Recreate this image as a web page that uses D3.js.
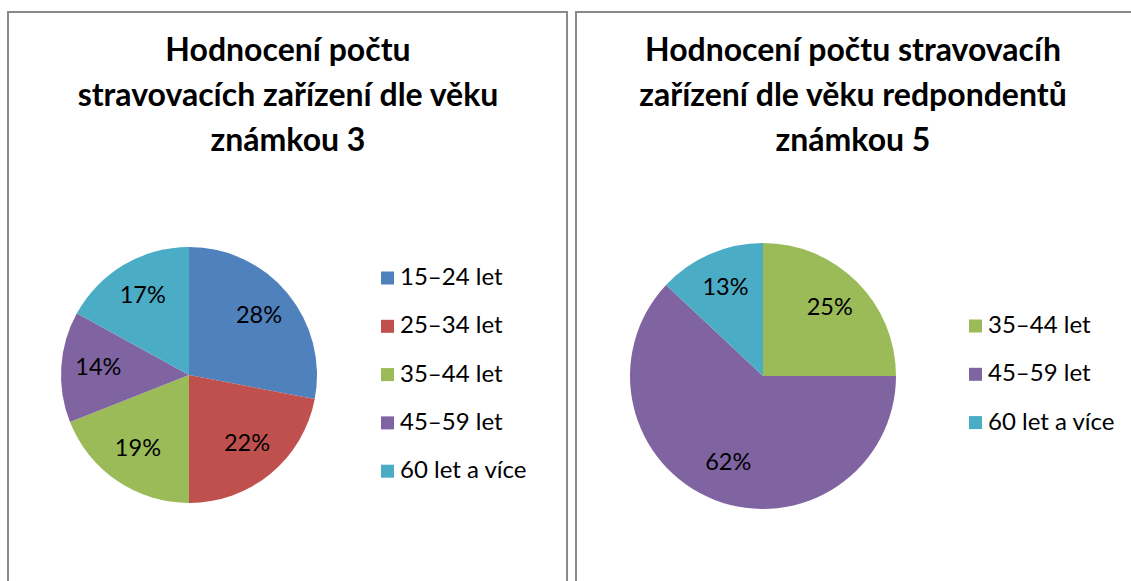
<!DOCTYPE html>
<html><head><meta charset="utf-8">
<script src="https://cdn.jsdelivr.net/npm/d3@7"></script>
<style>html,body{margin:0;padding:0;background:#fff;}</style>
</head><body>
<svg id="c" width="1131" height="581"></svg>
<script>
const title1 = ["Hodnocení počtu", "stravovacích zařízení dle věku", "známkou 3"];
const categories1 = ["15–24 let", "25–34 let", "35–44 let", "45–59 let", "60 let a více"];
const values1 = [28, 22, 19, 14, 17];
const colors1 = ["#4F81BD", "#C0504D", "#9BBB59", "#8064A2", "#4BACC6"];

const title2 = ["Hodnocení počtu stravovacíh", "zařízení dle věku redpondentů", "známkou 5"];
const categories2 = ["35–44 let", "45–59 let", "60 let a více"];
const values2 = [25, 62, 13];
const colors2 = ["#9BBB59", "#8064A2", "#4BACC6"];

const svg = d3.select("#c");
const font = "Lato, Carlito, 'Liberation Sans', sans-serif";

function panel(cfg) {
  const g = svg.append("g");
  g.append("rect").attr("x", cfg.x).attr("y", cfg.y).attr("width", cfg.w).attr("height", cfg.h)
    .attr("fill", "#fff").attr("stroke", "#8a8a8a").attr("stroke-width", 2);
  g.selectAll("text.title").data(cfg.title).enter().append("text")
    .attr("x", cfg.titleX).attr("y", (d, i) => cfg.titleY + i * 45)
    .attr("text-anchor", "middle").attr("dominant-baseline", "middle")
    .attr("font-family", font).attr("font-weight", "bold").attr("font-size", 32)
    .attr("fill", "#000").text(d => d);

  const pie = d3.pie().sort(null).value(d => d)(cfg.values);
  const arc = d3.arc().innerRadius(0).outerRadius(cfg.r);
  const lab = d3.arc().innerRadius(cfg.r * 0.71).outerRadius(cfg.r * 0.71);
  const pg = g.append("g").attr("transform", `translate(${cfg.pcx},${cfg.pcy})`);
  pg.selectAll("path").data(pie).enter().append("path")
    .attr("d", arc).attr("fill", (d, i) => cfg.colors[i]);
  pg.selectAll("text").data(pie).enter().append("text")
    .attr("transform", d => `translate(${lab.centroid(d)})`)
    .attr("text-anchor", "middle").attr("dominant-baseline", "middle")
    .attr("font-family", font).attr("font-size", 23.5).attr("fill", "#000")
    .text(d => d.data + "%");

  const y = d3.scalePoint().domain(cfg.cats).range([cfg.legY0, cfg.legY0 + (cfg.cats.length - 1) * 48.3]);
  const lg = g.append("g");
  const items = lg.selectAll("g").data(cfg.cats).enter().append("g")
    .attr("transform", d => `translate(${cfg.legX},${y(d)})`);
  items.append("rect").attr("x", 0).attr("y", -6.5).attr("width", 13).attr("height", 13)
    .attr("fill", (d, i) => cfg.colors[i]);
  items.append("text").attr("x", 19).attr("y", 1).attr("dominant-baseline", "middle")
    .attr("font-family", font).attr("font-size", 24).attr("fill", "#000").text(d => d);
}

panel({x: 8, y: 12, w: 559, h: 600, title: title1, titleX: 288, titleY: 53,
  values: values1, colors: colors1, cats: categories1, pcx: 189, pcy: 375, r: 128,
  legX: 381, legY0: 278});
panel({x: 576, y: 12, w: 600, h: 600, title: title2, titleX: 853, titleY: 53,
  values: values2, colors: colors2, cats: categories2, pcx: 763, pcy: 376, r: 133,
  legX: 969, legY0: 326});
</script>
</body></html>
